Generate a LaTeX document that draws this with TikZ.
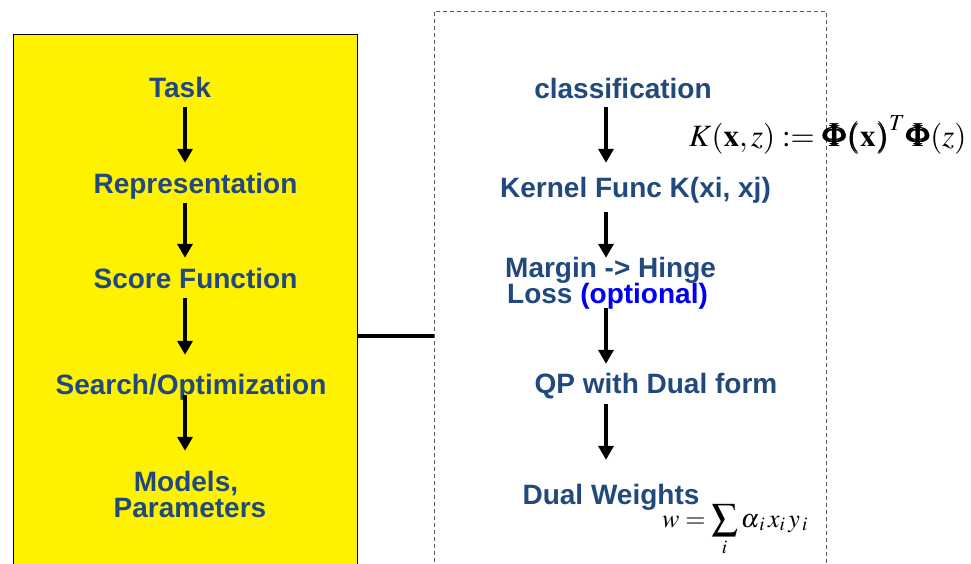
\documentclass[tikz,border=0pt]{standalone}
\usepackage{mathptmx}
\usepackage{bm}
\usepackage[no-math]{fontspec}
\newfontfamily\headfont{Liberation Sans}
\usetikzlibrary{arrows.meta}

\definecolor{headblue}{RGB}{33,73,125}
\definecolor{optblue}{RGB}{0,0,240}
\definecolor{dashgray}{RGB}{90,90,90}

\tikzset{
  steptext/.style={font=\headfont\bfseries\fontsize{28}{30}\selectfont,
    text=headblue, inner sep=0pt, text height=20pt, text depth=6pt, anchor=base},
  mathtext/.style={inner sep=0pt, anchor=base west},
  flow/.style={line width=4pt, -{Triangle[width=15pt,length=14pt]},
    shorten <=4pt, shorten >=10pt},
  stagebox/.style={fill=yellow, draw=black, line width=1pt, inner sep=0pt,
    minimum width=344pt, minimum height=604pt},
  detailbox/.style={draw=dashgray, line width=1pt, dash pattern=on 4pt off 3pt,
    inner sep=0pt, minimum width=392pt, minimum height=650pt}
}

\begin{document}
\begin{tikzpicture}[x=1pt,y=-1pt]
\useasboundingbox (0,0) rectangle (971,563);

% the two panels and the bar joining them
\node[stagebox] (stages) at (185,336) {};
\node[detailbox] (detail) at (630,336) {};
\draw[line width=3.5pt] (stages.east) -- (detail.west);

% generic pipeline
\coordinate (lcol) at (185,0);
\node[steptext] (task)   at (180,97)  {Task};
\node[steptext] (repr)   at (195.5,193) {Representation};
\node[steptext] (score)  at (195.5,288) {Score Function};
\node[steptext] (search) at (191,394) {Search/Optimization};
\node[steptext] (models) at (186,491) {Models,};
\node[steptext] (params) at (190,517) {Parameters};

\draw[flow] (task.south -| lcol) -- (repr.north -| lcol);
\draw[flow] (repr.south -| lcol) -- (score.north -| lcol);
\draw[flow, shorten >=19pt] (score.south -| lcol) -- (search.north -| lcol);
\draw[flow, shorten <=-5pt, shorten >=20pt] (search.south -| lcol) -- (models.north -| lcol);

% SVM instance of the pipeline
\coordinate (rcol) at (606,0);
\node[steptext] (cls)    at (623,98)  {classification};
\node[steptext] (kern)   at (635.5,197) {Kernel Func K(xi, xj)};
\node[steptext, anchor=base west] (margin) at (505,277) {Margin -> Hinge};
\node[steptext, anchor=base west] (loss)   at (507,303) {Loss \textcolor{optblue}{(optional)}};
\node[steptext] (qp)     at (656,393) {QP with Dual form};
\node[steptext] (dual)   at (611,504) {Dual Weights};

\draw[flow, shorten <=3pt, shorten >=14pt] (cls.south -| rcol) -- (kern.north -| rcol);
\draw[flow, shorten <=9pt, shorten >=-1pt] (kern.south -| rcol) -- (margin.north -| rcol);
\draw[flow, shorten <=-1pt, shorten >=9pt] (loss.south -| rcol) -- (qp.north -| rcol);
\draw[flow, shorten <=5pt, shorten >=24pt] (qp.south -| rcol) -- (dual.north -| rcol);

% formulas
\node[mathtext, font=\fontsize{31}{36}\selectfont] (kdef) at (689,146)
  {$K(\mathbf{x},z)\mathrel{:=}\bm{\Phi(\mathbf{x})}^{T}\bm{\Phi}(z)$};
\node[mathtext, font=\fontsize{26}{30}\selectfont] (wdef) at (662,527)
  {$\displaystyle w=\sum_{i}\alpha_{\,i}\,x_{i}\,y_{\,i}$};
\end{tikzpicture}
\end{document}
